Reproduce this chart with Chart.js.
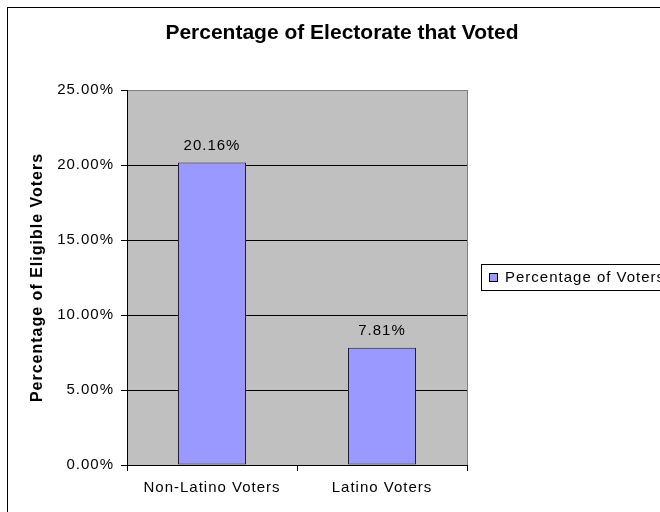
<!DOCTYPE html>
<html>
<head>
<meta charset="utf-8">
<script src="https://cdn.jsdelivr.net/npm/chart.js@4"></script>
<style>
  html, body { margin: 0; padding: 0; background: #fff; }
  #wrap { width: 660px; height: 512px; }
</style>
</head>
<body>
<div id="wrap"><canvas id="chart" width="660" height="512"></canvas></div>
<script>
const chartTitle = 'Percentage of Electorate that Voted';
const categories = ['Non-Latino Voters', 'Latino Voters'];
const seriesName = 'Percentage of Voters';
const voterPct = [20.16, 7.81];
const yTitle = 'Percentage of Eligible Voters';
const yMax = 25;
const yStep = 5;

const FONT = "'Liberation Sans', Arial, sans-serif";
const fmtPct = v => Number(v).toFixed(2) + '%';

// excel look: gray plot, outer frame, title, data labels, legend
const excelLook = {
    id: 'excelLook',
    beforeLayout(chart) { chart.ctx.letterSpacing = '1px'; },
    beforeDraw(chart) {
        const ctx = chart.ctx;
        const a = chart.chartArea;
        ctx.save();
        ctx.fillStyle = '#fff';
        ctx.fillRect(0, 0, chart.width, chart.height);
        ctx.strokeStyle = '#000';
        ctx.lineWidth = 1;
        ctx.strokeRect(7.5, 7.5, 800, 700);
        ctx.fillStyle = '#c0c0c0';
        ctx.fillRect(a.left, a.top, a.right - a.left, a.bottom - a.top);
        ctx.strokeStyle = '#808080';
        ctx.beginPath();
        ctx.moveTo(a.right + 0.5, a.top);
        ctx.lineTo(a.right + 0.5, a.bottom);
        ctx.stroke();

        ctx.letterSpacing = '0px';
        ctx.fillStyle = '#000';
        ctx.font = 'bold 21px ' + FONT;
        ctx.textAlign = 'center';
        ctx.textBaseline = 'middle';
        ctx.fillText(chartTitle, 342, 33);
        ctx.restore();
        chart.ctx.letterSpacing = '1px';
    },
    afterDatasetsDraw(chart) {
        const ctx = chart.ctx;
        const ds = chart.data.datasets[0];
        ctx.save();
        ctx.letterSpacing = '1px';
        ctx.fillStyle = '#000';
        ctx.font = '15px ' + FONT;
        ctx.textAlign = 'center';
        ctx.textBaseline = 'bottom';
        chart.getDatasetMeta(0).data.forEach((bar, i) => {
            ctx.fillText(fmtPct(ds.data[i]), bar.x, bar.y - 9);
        });

        // legend
        ctx.strokeStyle = '#000';
        ctx.lineWidth = 1;
        ctx.strokeRect(481.5, 264.5, 300, 26);
        ctx.fillStyle = ds.backgroundColor;
        ctx.fillRect(489, 273, 8, 8);
        ctx.strokeRect(489.5, 273.5, 8, 8);
        ctx.fillStyle = '#000';
        ctx.textAlign = 'left';
        ctx.textBaseline = 'middle';
        ctx.fillText(ds.label, 505, 278);
        ctx.restore();
    }
};

new Chart(document.getElementById('chart').getContext('2d'), {
    type: 'bar',
    data: {
        labels: categories,
        datasets: [{
            label: seriesName,
            data: voterPct,
            backgroundColor: '#9999ff',
            borderColor: '#222222',
            borderWidth: 1,
            borderSkipped: false,
            categoryPercentage: 1,
            barPercentage: 0.4
        }]
    },
    options: {
        responsive: false,
        animation: false,
        layout: { padding: { left: 0, top: 90, right: 193, bottom: 0 } },
        plugins: {
            legend: { display: false },
            title: { display: false },
            tooltip: { enabled: false }
        },
        scales: {
            x: {
                afterFit(scale) { scale.height = 47; },
                grid: { drawOnChartArea: false, color: '#000', tickLength: 6, offset: true },
                border: { color: '#000' },
                ticks: { color: '#000', font: { family: FONT, size: 15 }, padding: 8, maxRotation: 0 }
            },
            y: {
                min: 0,
                max: yMax,
                afterFit(scale) { scale.width = 127; },
                grid: {
                    color: c => (c.tick && c.tick.value === yMax) ? '#808080' : '#000',
                    tickColor: '#000',
                    tickLength: 6
                },
                border: { color: '#000' },
                ticks: {
                    stepSize: yStep,
                    color: '#000',
                    font: { family: FONT, size: 15 },
                    padding: 7,
                    callback: v => fmtPct(v)
                },
                title: {
                    display: true,
                    text: yTitle,
                    color: '#000',
                    font: { family: FONT, size: 16, weight: 'bold' },
                    padding: { top: 28, bottom: 0 }
                }
            }
        }
    },
    plugins: [excelLook]
});
</script>
</body>
</html>
